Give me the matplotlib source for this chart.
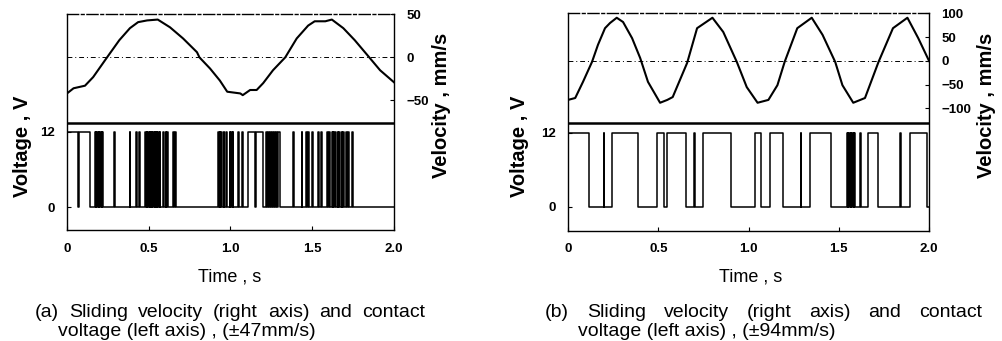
import numpy as np
import matplotlib
matplotlib.use("Agg")
import matplotlib.pyplot as plt

plt.rcParams['font.family'] = ['Liberation Sans', 'DejaVu Sans']

# velocity (time s, mm/s)
t_vel_a = [0.0, 0.04, 0.11, 0.16, 0.245, 0.32, 0.385, 0.435, 0.49, 0.555, 0.63, 0.71,
           0.795, 0.81, 0.875, 0.935, 0.98, 1.06, 1.075, 1.12, 1.16, 1.20, 1.26, 1.335,
           1.405, 1.475, 1.515, 1.58, 1.62, 1.69, 1.76, 1.84, 1.915, 2.0]
vel_a = [-42, -36, -33, -23, 0, 20, 34, 41, 43, 44, 35, 22,
         6, 0, -13, -27, -40, -42, -44, -38, -38, -30, -15, 0,
         22, 37, 42, 42, 44, 34, 20, 2, -15, -29]

t_vel_b = [0.0, 0.04, 0.083, 0.133, 0.166, 0.205, 0.233, 0.27, 0.305, 0.355, 0.40, 0.443,
           0.51, 0.55, 0.58, 0.66, 0.715, 0.80, 0.86, 0.935, 0.99, 1.05, 1.11, 1.16,
           1.20, 1.27, 1.35, 1.41, 1.48, 1.52, 1.58, 1.645, 1.72, 1.80, 1.88, 1.94, 2.0]
vel_b = [-82, -78, -44, -2, 34, 69, 80, 91, 82, 48, 6, -44,
         -88, -82, -76, -4, 69, 91, 61, -2, -55, -88, -82, -51,
         -2, 69, 91, 55, -2, -51, -88, -78, -2, 69, 91, 48, 0]

# contact voltage: intervals (start, end) where the contact is at 12 V
high_a = [(0.0, 0.068), (0.072, 0.14), (0.17, 0.176), (0.179, 0.185), (0.188, 0.194),
          (0.197, 0.203), (0.206, 0.212), (0.215, 0.222), (0.29, 0.293),
          (0.385, 0.388), (0.422, 0.426), (0.44, 0.444),
          (0.477, 0.481), (0.487, 0.49), (0.495, 0.5), (0.505, 0.508), (0.512, 0.518),
          (0.522, 0.526), (0.53, 0.536), (0.54, 0.545), (0.55, 0.553), (0.558, 0.562),
          (0.566, 0.57), (0.59, 0.596), (0.604, 0.608), (0.614, 0.62), (0.648, 0.652),
          (0.662, 0.668),
          (0.925, 0.929), (0.935, 0.938), (0.945, 0.95), (0.96, 0.963), (0.972, 0.976),
          (0.997, 1.0), (1.005, 1.008), (1.013, 1.017), (1.048, 1.052), (1.07, 1.078),
          (1.105, 1.15), (1.155, 1.2),
          (1.22, 1.226), (1.23, 1.236), (1.24, 1.248), (1.252, 1.26), (1.264, 1.272),
          (1.276, 1.284), (1.288, 1.30), (1.384, 1.387),
          (1.435, 1.44), (1.46, 1.466), (1.475, 1.48), (1.497, 1.502),
          (1.537, 1.542), (1.552, 1.558), (1.59, 1.596), (1.603, 1.61),
          (1.62, 1.625), (1.63, 1.636), (1.642, 1.648), (1.655, 1.66), (1.665, 1.672),
          (1.68, 1.684), (1.69, 1.697), (1.705, 1.71), (1.72, 1.726), (1.745, 1.751)]

high_b = [(0.0, 0.116), (0.198, 0.202), (0.242, 0.386), (0.491, 0.534), (0.547, 0.654),
          (0.70, 0.703), (0.746, 0.903), (1.036, 1.067), (1.119, 1.189), (1.29, 1.293),
          (1.341, 1.457), (1.545, 1.55), (1.553, 1.558), (1.561, 1.566), (1.569, 1.574),
          (1.577, 1.582), (1.585, 1.59), (1.62, 1.624), (1.664, 1.719), (1.84, 1.843),
          (1.895, 1.987)]

x_ticks = [0, 0.5, 1.0, 1.5, 2.0]
x_ticklabels = ['0', '0.5', '1.0', '1.5', '2.0']
volt_ticks = [0, 12]
vel_ticks_a = [-50, 0, 50]
vel_ticks_b = [-100, -50, 0, 50, 100]
cap_line1 = ["Sliding", "velocity", "(right", "axis)", "and", "contact"]
cap_line2 = ["voltage (left axis) , (\u00b147mm/s)", "voltage (left axis) , (\u00b194mm/s)"]


def step_curve(pulses, t_end=2.0):
    t = [0.0]
    v = [0.0]
    for s, e in pulses:
        t += [s, s, e, e]
        v += [0, 12, 12, 0]
    t.append(t_end)
    v.append(0)
    return t, v


def justified(fig, words, x0, x1, y, **kw):
    # spread the words so the line runs from x0 to x1 (figure fraction)
    r = fig.canvas.get_renderer()
    objs = [fig.text(0, y, w, **kw) for w in words]
    W = fig.bbox.width
    widths = [o.get_window_extent(r).width for o in objs]
    gap = ((x1 - x0) * W - sum(widths)) / (len(words) - 1)
    x = x0 * W
    for o, w in zip(objs, widths):
        o.set_x(x / W)
        x += w + gap


fig = plt.figure(figsize=(10.03, 3.41), dpi=100)

panels = [
    dict(rect=[0.0668, 0.3255, 0.326, 0.6335], tv=t_vel_a, v=vel_a, hi=high_a,
         vlim=(-3.68, 30.88), velim=(-201, 50.5), vt=vel_ticks_a, div=13.44,
         tag='(a)', l2=cap_line2[0], c0=0.0349, c1=0.4237, c2=0.0578,
         timex=0.229, vlab_x=0.022, vellab_x=0.44),
    dict(rect=[0.5663, 0.3226, 0.36, 0.6393], tv=t_vel_b, v=vel_b, hi=high_b,
         vlim=(-3.9, 31.4), velim=(-358, 101), vt=vel_ticks_b, div=13.6,
         tag='(b)', l2=cap_line2[1], c0=0.5434, c1=0.979, c2=0.576,
         timex=0.748, vlab_x=0.518, vellab_x=0.984),
]

for p in panels:
    ax = fig.add_axes(p['rect'])
    t, v = step_curve(p['hi'])
    ax.plot(t, v, color='black', lw=1.1)
    ax.axhline(p['div'], color='black', lw=1.8)
    ax.set_xlim(0, 2.0)
    ax.set_ylim(*p['vlim'])
    ax.set_xticks(x_ticks)
    ax.set_xticklabels(x_ticklabels)
    ax.set_yticks(volt_ticks)
    ax.tick_params(direction='in', length=3, width=0.8, labelsize=9.5, pad=9)
    for lab in ax.get_xticklabels() + ax.get_yticklabels():
        lab.set_fontweight('bold')
    ax.spines['top'].set_linestyle((0, (8, 2, 2, 2)))
    for s in ax.spines.values():
        s.set_linewidth(1.0)

    ax2 = ax.twinx()
    ax2.plot(p['tv'], p['v'], color='black', lw=1.5)
    ax2.axhline(0, color='black', lw=0.7, linestyle=(0, (5, 3, 1, 3)))
    ax2.set_ylim(*p['velim'])
    ax2.set_yticks(p['vt'])
    ax2.set_yticklabels([str(x).replace('-', '\u2212') for x in p['vt']])
    ax2.tick_params(direction='in', length=3, width=0.8, labelsize=9.5, pad=9)
    for lab in ax2.get_yticklabels():
        lab.set_fontweight('bold')
    for s in ax2.spines.values():
        s.set_visible(False)

    fig.text(p['vlab_x'], 0.572, 'Voltage , V', rotation=90, fontsize=14.5,
             fontweight='bold', ha='center', va='center')
    fig.text(p['vellab_x'], 0.69, 'Velocity , mm/s', rotation=90, fontsize=14.5,
             fontweight='bold', ha='center', va='center')
    fig.text(p['timex'], 0.174, 'Time , s', fontsize=13, ha='center', va='baseline')
    justified(fig, [p['tag']] + cap_line1, p['c0'], p['c1'], 0.07,
              fontsize=14, va='baseline')
    fig.text(p['c2'], 0.016, p['l2'], fontsize=14, va='baseline')

fig.savefig('out.png', dpi=100)
